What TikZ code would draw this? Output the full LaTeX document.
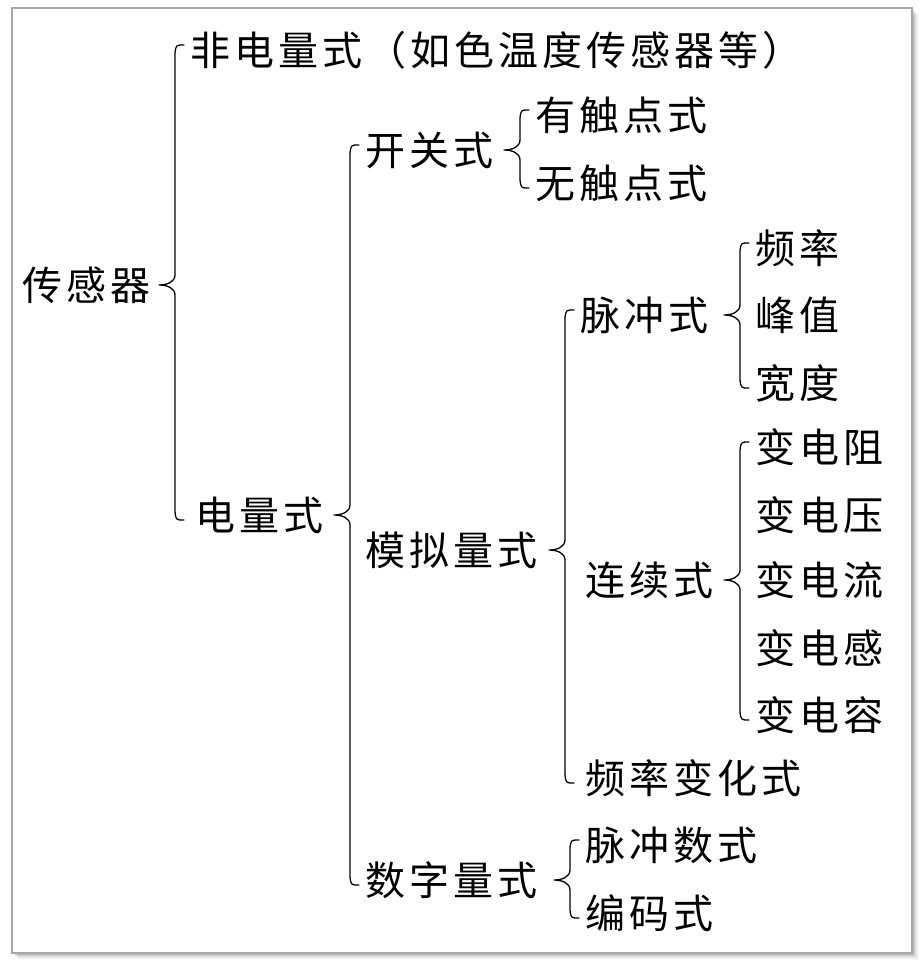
\documentclass[tikz,border=0pt]{standalone}
\usepackage{fontspec}
\newfontfamily\cjk[LetterSpace=10]{Noto Sans CJK SC}
\usetikzlibrary{calc}
\newcommand\mybrc[3]{%
\draw[bline] let \p1=(#2.west), \p2=(#3.west), \p3=(#1.west) in
 (\x1-6pt,\y1+5pt) .. controls (\x1-14pt,\y1+5pt) .. (\x1-15pt,\y1-3pt)
 -- (\x1-15pt,\y3+10pt) .. controls (\x1-15pt,\y3+3pt) and (\x1-23pt,\y3) .. (\x1-31pt,\y3)
 .. controls (\x1-23pt,\y3) and (\x1-15pt,\y3-3pt) .. (\x1-15pt,\y3-10pt)
 -- (\x1-15pt,\y2+3pt) .. controls (\x1-14pt,\y2-5pt) .. (\x1-6pt,\y2-5pt);}
\begin{document}
\begin{tikzpicture}[x=1pt,y=-1pt,
  txt/.style={anchor=west,inner sep=0pt,text height=34pt,text depth=4pt,font=\cjk\fontsize{40}{40}\selectfont},
  bline/.style={line width=1.3pt,black,line cap=round,line join=round}]
\useasboundingbox (0,0) rectangle (924,970);
% frame with soft shadow
\foreach \i/\o in {1/0.10,2/0.08,3/0.07,4/0.05,5/0.04,6/0.03,7/0.02}{
  \fill[black,opacity=\o] (12+\i,8+\i) rectangle (912+\i,953+\i);}
\fill[white] (12,8) rectangle (912,953);
\draw[black!35,line width=2pt] (12,8) rectangle (912,953);
% nodes
\node[txt] (root) at (22,285) {传感器};
\node[txt] (ne) at (190,50) {非电量式（如色温度传感器等）};
\node[txt] (e) at (195,515) {电量式};
\node[txt] (kg) at (365,150) {开关式};
\node[txt] (yc) at (535,115) {有触点式};
\node[txt] (wc) at (535,183) {无触点式};
\node[txt] (mn) at (365,550) {模拟量式};
\node[txt] (mc) at (580,315) {脉冲式};
\node[txt] (pl) at (755,248) {频率};
\node[txt] (fz) at (755,315) {峰值};
\node[txt] (kd) at (755,383) {宽度};
\node[txt] (lx) at (585,580) {连续式};
\node[txt] (r1) at (755,447) {变电阻};
\node[txt] (r2) at (755,515) {变电压};
\node[txt] (r3) at (755,580) {变电流};
\node[txt] (r4) at (755,648) {变电感};
\node[txt] (r5) at (755,715) {变电容};
\node[txt] (pb) at (585,778) {频率变化式};
\node[txt] (sz) at (365,880) {数字量式};
\node[txt] (ms) at (585,845) {脉冲数式};
\node[txt] (bm) at (585,913) {编码式};
% braces
\mybrc{root}{ne}{e}
\mybrc{e}{kg}{sz}
\mybrc{kg}{yc}{wc}
\mybrc{mn}{mc}{pb}
\mybrc{mc}{pl}{kd}
\mybrc{lx}{r1}{r5}
\mybrc{sz}{ms}{bm}
\end{tikzpicture}
\end{document}
